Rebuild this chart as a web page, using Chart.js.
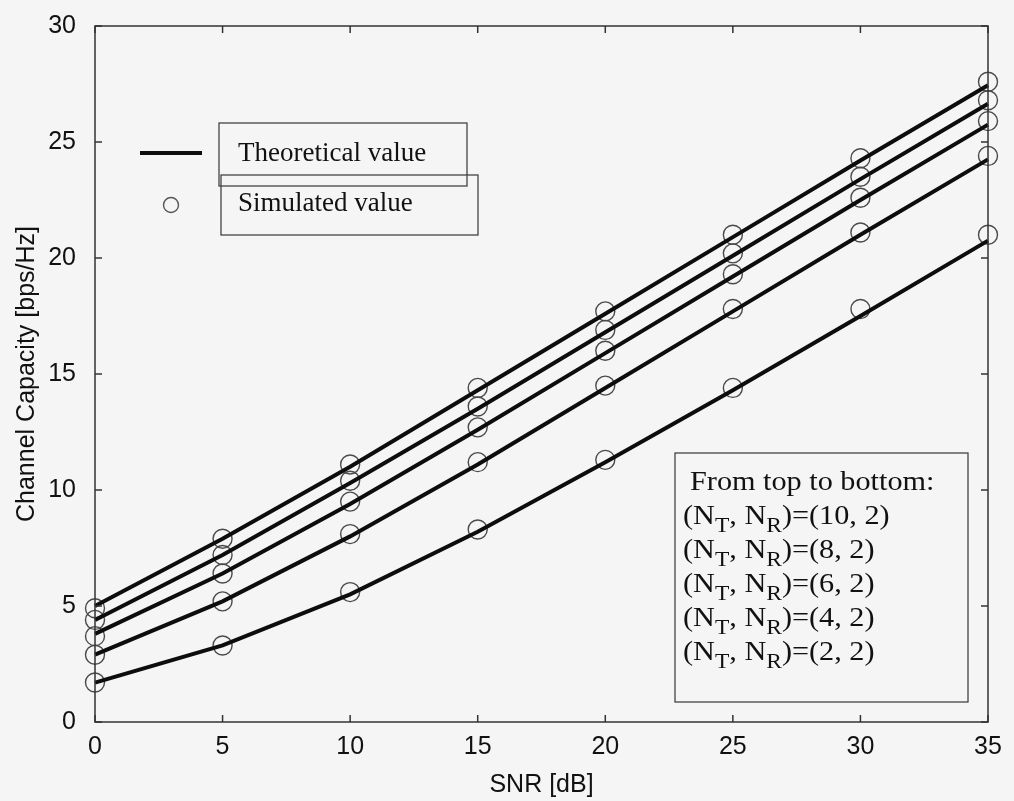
<!DOCTYPE html>
<html>
<head>
<meta charset="utf-8">
<script src="https://cdn.jsdelivr.net/npm/chart.js@4.4.1/dist/chart.umd.min.js"></script>
<style>
  html, body { margin: 0; padding: 0; background: #f5f5f5; }
  #wrap { width: 1014px; height: 801px; }
</style>
</head>
<body>
<div id="wrap"><canvas id="capChart" width="1014" height="801"></canvas></div>
<script>
// SNR points (dB)
const snr = [0, 5, 10, 15, 20, 25, 30, 35];

// theoretical capacity, top to bottom: NT = 10, 8, 6, 4, 2 (NR = 2)
const theo10 = [5.0, 7.9, 11.0, 14.3, 17.6, 20.9, 24.2, 27.45];
const theo8  = [4.4, 7.2, 10.3, 13.5, 16.8, 20.1, 23.4, 26.65];
const theo6  = [3.8, 6.4, 9.4, 12.6, 15.9, 19.2, 22.5, 25.75];
const theo4  = [2.9, 5.2, 8.0, 11.1, 14.4, 17.7, 21.0, 24.25];
const theo2  = [1.7, 3.3, 5.5, 8.2, 11.2, 14.3, 17.5, 20.75];

// simulated capacity (circles)
const sim10 = [4.9, 7.9, 11.1, 14.4, 17.7, 21.0, 24.3, 27.6];
const sim8  = [4.4, 7.2, 10.4, 13.6, 16.9, 20.2, 23.5, 26.8];
const sim6  = [3.7, 6.4, 9.5, 12.7, 16.0, 19.3, 22.6, 25.9];
const sim4  = [2.9, 5.2, 8.1, 11.2, 14.5, 17.8, 21.1, 24.4];
const sim2  = [1.7, 3.3, 5.6, 8.3, 11.3, 14.4, 17.8, 21.0];

const xTicks = [0, 5, 10, 15, 20, 25, 30, 35];
const yTicks = [0, 5, 10, 15, 20, 25, 30];

const boxLines = ['10', '8', '6', '4', '2'];

const sansFont = '"Liberation Sans", Arial, sans-serif';
const serifFont = '"Liberation Serif", "Times New Roman", serif';

function toPoints(ys) {
    return snr.map((x, i) => ({ x: x, y: ys[i] }));
}

function lineSet(ys) {
    return {
        data: toPoints(ys),
        showLine: true,
        borderColor: '#0d0d0d',
        borderWidth: 4,
        pointRadius: 0,
        tension: 0,
        clip: false
    };
}

function circleSet(ys) {
    return {
        data: toPoints(ys),
        showLine: false,
        borderColor: '#4a4a4a',
        backgroundColor: 'rgba(0,0,0,0)',
        borderWidth: 1.4,
        pointRadius: 9.5,
        pointStyle: 'circle',
        clip: false
    };
}

// inward ticks, box frame, legend and the text box
const decorations = {
    id: 'decorations',
    beforeDraw(chart) {
        const ctx = chart.ctx;
        ctx.save();
        ctx.fillStyle = '#f5f5f5';
        ctx.fillRect(0, 0, chart.width, chart.height);
        ctx.restore();
    },
    afterDraw(chart) {
        const ctx = chart.ctx;
        const area = chart.chartArea;
        const xs = chart.scales.x;
        const ys = chart.scales.y;
        const tick = 7;

        ctx.save();
        ctx.strokeStyle = '#333';
        ctx.lineWidth = 1.5;
        ctx.strokeRect(area.left, area.top, area.right - area.left, area.bottom - area.top);

        ctx.beginPath();
        xTicks.forEach(v => {
            const px = xs.getPixelForValue(v);
            ctx.moveTo(px, area.bottom);
            ctx.lineTo(px, area.bottom - tick);
            ctx.moveTo(px, area.top);
            ctx.lineTo(px, area.top + tick);
        });
        yTicks.forEach(v => {
            const py = ys.getPixelForValue(v);
            ctx.moveTo(area.left, py);
            ctx.lineTo(area.left + tick, py);
            ctx.moveTo(area.right, py);
            ctx.lineTo(area.right - tick, py);
        });
        ctx.stroke();

        // legend
        ctx.strokeStyle = '#0d0d0d';
        ctx.lineWidth = 4;
        ctx.beginPath();
        ctx.moveTo(140, 153);
        ctx.lineTo(202, 153);
        ctx.stroke();

        ctx.strokeStyle = '#555';
        ctx.lineWidth = 1.4;
        ctx.beginPath();
        ctx.arc(171, 205, 7.5, 0, Math.PI * 2);
        ctx.stroke();

        ctx.strokeStyle = '#444';
        ctx.lineWidth = 1.3;
        ctx.strokeRect(219, 123, 248, 63);
        ctx.strokeRect(221, 175, 257, 60);

        ctx.fillStyle = '#111';
        ctx.font = '27px ' + serifFont;
        ctx.textBaseline = 'middle';
        ctx.textAlign = 'left';
        ctx.fillText('Theoretical value', 238, 154);
        ctx.fillText('Simulated value', 238, 204);

        // text box, bottom right
        ctx.strokeStyle = '#444';
        ctx.lineWidth = 1.3;
        ctx.strokeRect(675, 453, 293, 249);

        const big = 27;
        const small = 21;
        const stretch = 1.12;
        let y = 483;
        ctx.save();
        ctx.translate(690, 0);
        ctx.scale(stretch, 1);
        ctx.font = big + 'px ' + serifFont;
        ctx.fillText('From top to bottom:', 0, y);
        ctx.restore();
        boxLines.forEach(nt => {
            y += 34;
            ctx.save();
            ctx.translate(683, 0);
            ctx.scale(stretch, 1);
            let x = 0;
            const parts = [
                ['(N', false], ['T', true], [', N', false], ['R', true], [')=(' + nt + ', 2)', false]
            ];
            parts.forEach(([txt, sub]) => {
                ctx.font = (sub ? small : big) + 'px ' + serifFont;
                ctx.fillText(txt, x, sub ? y + 9 : y);
                x += ctx.measureText(txt).width;
            });
            ctx.restore();
        });
        ctx.restore();
    }
};

const ctx = document.getElementById('capChart').getContext('2d');

new Chart(ctx, {
    type: 'scatter',
    data: {
        datasets: [
            lineSet(theo10), lineSet(theo8), lineSet(theo6), lineSet(theo4), lineSet(theo2),
            circleSet(sim10), circleSet(sim8), circleSet(sim6), circleSet(sim4), circleSet(sim2)
        ]
    },
    options: {
        responsive: false,
        animation: false,
        devicePixelRatio: 1,
        layout: { padding: { left: 0, top: 22, right: 26, bottom: 0 } },
        plugins: {
            legend: { display: false },
            tooltip: { enabled: false }
        },
        scales: {
            x: {
                type: 'linear',
                min: 0,
                max: 35,
                afterBuildTicks: scale => { scale.ticks = xTicks.map(v => ({ value: v })); },
                afterFit: scale => { scale.height = 79; },
                grid: { display: false },
                border: { display: false },
                ticks: {
                    color: '#111',
                    padding: 2,
                    maxRotation: 0,
                    font: { family: sansFont, size: 25 }
                },
                title: {
                    display: true,
                    text: 'SNR [dB]',
                    color: '#111',
                    padding: { top: 0, bottom: 1 },
                    font: { family: sansFont, size: 25 }
                }
            },
            y: {
                type: 'linear',
                min: 0,
                max: 30,
                afterBuildTicks: scale => { scale.ticks = yTicks.map(v => ({ value: v })); },
                afterFit: scale => { scale.width = 95; },
                grid: { display: false },
                border: { display: false },
                ticks: {
                    color: '#111',
                    padding: 11,
                    font: { family: sansFont, size: 25 }
                },
                title: {
                    display: true,
                    text: 'Channel Capacity [bps/Hz]',
                    color: '#111',
                    padding: { top: 12, bottom: 0 },
                    font: { family: sansFont, size: 25 }
                }
            }
        }
    },
    plugins: [decorations]
});
</script>
</body>
</html>
